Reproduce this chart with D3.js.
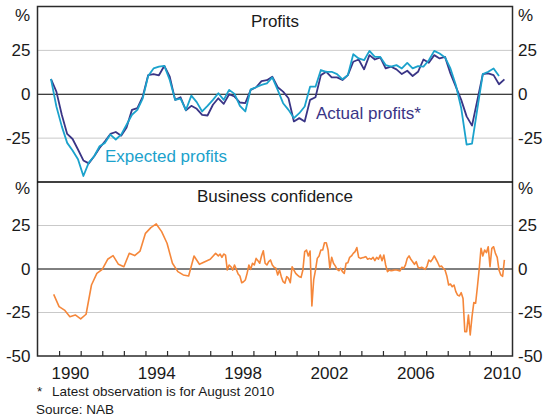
<!DOCTYPE html>
<html>
<head>
<meta charset="utf-8">
<script src="https://cdn.jsdelivr.net/npm/d3@7"></script>
<style>
  body { margin: 0; background: #fff; }
  svg text { font-family: "Liberation Sans", Arial, Helvetica, sans-serif; fill: #1a1a1a; }
</style>
</head>
<body>
<svg id="chart" width="545" height="418"></svg>
<script>
// Quarterly NAB profits series (per cent), first observation Sep quarter 1989
const profitsStart = 1989.625;
const actualProfits = [
  8.7, 1.5, -11.7, -22.6, -25.5, -31.5, -37.7, -39.4, -35.3, -30.6,
  -26.8, -22.6, -21.5, -23.6, -18.9, -8.9, -7.9, -1.3, 10.9, 11.5,
  10.8, 16.2, 10, -3.2, -1.7, -9.2, -6.6, -8.3, -11.7, -12.1,
  -6, -2.3, -5.5, 0, -1.3, -4.7, -5, 2.5, 4, 7.5,
  8, 10, 4, 1.5, -2.3, -15.5, -13.6, -15.5, -3.2, -1.7,
  10.9, 12.8, 9.6, 9.6, 8.1, 10.9, 18.5, 19.8, 14.2, 22.3,
  19.8, 21, 14.7, 15.7, 14.2, 11.5, 13.4, 10.4, 12.8, 19.8,
  17.9, 22.3, 20.4, 21.3, 11.9, 4.3, -3.2, -12.6, -17.9, -3.2,
  11.5, 11.9, 10.9, 5.7, 8.5
];
const expectedProfits = [
  8.7, -7, -18.3, -27.7, -32, -37, -46.6, -39, -35.3, -29.6,
  -27.7, -23, -25.8, -23, -17.4, -11.7, -8.9, -2.3, 10.4, 14.7,
  15.7, 16.2, 8.1, -3.2, -2.5, -9, -0.8, -4.5, -9.8, -6.6,
  -3.2, 0.6, -3.2, 2.5, 0.2, -6.6, -9.8, 2.8, 4, 5.3,
  6.2, 9.6, 2.5, -5.1, -8.9, -13.6, -10.8, -7, 4.3, 4.3,
  13.8, 12.8, 12.8, 11.5, 8.5, 10.9, 22.8, 20.4, 19.4, 24.7,
  21.3, 21.3, 16.6, 15.7, 16.6, 14.7, 17.9, 14.7, 16, 15.7,
  19.4, 24.7, 23.2, 21, 14.7, 5.3, -7.9, -28.7, -28.1, -8,
  11.5, 12.8, 14.7, 10.4
];

// Business confidence: quarterly survey to early 1997, monthly from May 1997
const confidenceQuarterlyStart = 1989.75;
const confidenceQuarterly = [
  -14.6, -21.6, -23.6, -27.4, -26.4, -28.7, -26, -9.2, -2.5, -0.2,
  5.6, 7.7, 2.7, 1.3, 9, 7.7, 10.3, 20.5, 23.8, 25.9,
  21.5, 14.8, 3.3, -1.5, -3.4, -4, 7.5, 2.7, 4.2, 5.6,
  9
];
const confidenceMonthlyStart = 1997 + 4.5 / 12;
const confidenceMonthly = [
  // May 1997 - Dec 1999
  7.5, 8.6, 6.7, 8.6, 8, -0.6, 2.3, 1.3, -0.6, 2.3,
  -0.2, -2.9, -4, -7.9, -7.3, -6.3, -2.5, 2.3, -0.2, 3.3,
  2.3, 6.1, 4.8, 3.3, 7.5, 10.5, 3.3, 2.3, 4.2, 5.2,
  2.3, 1,
  // Jan 2000 - Aug 2010
  0.4, -3.4, -0.6, -4.4, -7.3, -8.2, -4.4, -5.4, -7.9, 1.3,
  -0.6, -2.5, -3.5, -4.4, -4.8, -0.6, 10, 10.9, 7.5, 10.3,
  -21.3, -6.3, -0.6, 6.1, 7.5, 10.9, 10.9, 15.1, 15.1, 10.9,
  0.4, 6.7, 3.3, 1.8, -0.2, -1, 0.4, -1.5, -2.5, 3.3,
  3.6, 6.7, 7.5, 9, 10, 12.3, 6.7, 6.1, 6.5, 6.7,
  7.1, 5.6, 6.1, 5.6, 6.7, 4.8, 6.7, 5.6, 8, 4.8,
  8, 2.3, -1.5, -0.6, -1, -0.8, -0.6, -0.6, -0.8, -1.1,
  1, 0.4, 2.3, 6.1, 7.5, 5.6, 4.2, 2.7, 4.2, 1,
  0.4, 1, 0.4, -0.2, 1.7, 5.2, 4.2, 5.6, 7.5, 5.6,
  3.6, 1.3, 1.7, 0.4, -0.6, -4, -9.2, -8.6, -10.2, -9.2,
  -13, -15, -15.5, -13.6, -16.9, -36, -36, -26.4, -37.9, -27.4,
  -19.3, -19.7, -10.2, 0, 11.9, 7.5, 10.9, 9.4, 12.8, 1.3,
  11.9, 12.8, 9, 6.7, -0.6, -3.4, -4.2, 5.2
];

const yearTicks = d3.range(1990, 2011);
const yearLabels = [1990, 1994, 1998, 2002, 2006, 2010];
const valueTicks = [25, 0, -25];
const bottomValueTicks = [25, 0, -25, -50];
const panelTitles = ["Profits", "Business confidence"];
const footnotes = ["Latest observation is for August 2010", "Source: NAB"];

const colours = { actual: "#3a3586", expected: "#1ba2cc", confidence: "#f5873a" };

const svg = d3.select("#chart");
const plotLeft = 37.5, plotRight = 512.5, plotTop = 6.5, plotMid = 182, plotBottom = 356;

const x = d3.scaleLinear().domain([1989, 2011]).range([plotLeft, plotRight]);
const yTop = d3.scaleLinear().domain([-50, 50]).range([plotMid, plotTop]);
const yBot = d3.scaleLinear().domain([-50, 50]).range([plotBottom, plotMid]);

const withDates = (vals, start, step) => vals.map((v, i) => ({ t: start + i * step, v }));
const actualPts = withDates(actualProfits, profitsStart, 0.25);
const expectedPts = withDates(expectedProfits, profitsStart, 0.25);
const confidencePts = withDates(confidenceQuarterly, confidenceQuarterlyStart, 0.25)
  .concat(withDates(confidenceMonthly, confidenceMonthlyStart, 1 / 12));

// gridlines and zero lines
function gridFor(y) {
  svg.append("g").selectAll("line").data([25, -25]).join("line")
    .attr("x1", plotLeft).attr("x2", plotRight)
    .attr("y1", d => y(d)).attr("y2", d => y(d))
    .attr("stroke", "#c9c9c9").attr("stroke-width", 1);
  svg.append("line").attr("x1", plotLeft).attr("x2", plotRight)
    .attr("y1", y(0)).attr("y2", y(0))
    .attr("stroke", "#000").attr("stroke-width", 1);
}
gridFor(yTop);
gridFor(yBot);

// series
const lineTop = d3.line().x(d => x(d.t)).y(d => yTop(d.v));
const lineBot = d3.line().x(d => x(d.t)).y(d => yBot(d.v));

svg.append("path").datum(actualPts).attr("d", lineTop)
  .attr("fill", "none").attr("stroke", colours.actual).attr("stroke-width", 1.8)
  .attr("stroke-linejoin", "round");
svg.append("path").datum(expectedPts).attr("d", lineTop)
  .attr("fill", "none").attr("stroke", colours.expected).attr("stroke-width", 1.8)
  .attr("stroke-linejoin", "round");
svg.append("path").datum(confidencePts).attr("d", lineBot)
  .attr("fill", "none").attr("stroke", colours.confidence).attr("stroke-width", 1.6)
  .attr("stroke-linejoin", "round");

// frame
const frame = svg.append("g").attr("stroke", "#2b2b2b").attr("stroke-width", 1.5).attr("fill", "none");
frame.append("rect").attr("x", plotLeft).attr("y", plotTop)
  .attr("width", plotRight - plotLeft).attr("height", plotBottom - plotTop);
frame.append("line").attr("x1", plotLeft).attr("x2", plotRight)
  .attr("y1", plotMid).attr("y2", plotMid).attr("stroke", "#000");

// year ticks (inside, pointing up) and labels centred on each year
const tickAxis = svg.append("g").attr("transform", `translate(0,${plotBottom})`)
  .call(d3.axisTop(x).tickValues(yearTicks).tickSizeInner(5).tickSizeOuter(0).tickFormat(""));
tickAxis.select(".domain").remove();
tickAxis.selectAll(".tick line").attr("stroke", "#2b2b2b").attr("stroke-width", 1.2);

const labelAxis = svg.append("g").attr("transform", `translate(0,${plotBottom})`)
  .call(d3.axisBottom(x).tickValues(yearLabels.map(d => d + 0.5)).tickSize(0).tickPadding(11)
    .tickFormat(d => String(Math.floor(d))));
labelAxis.select(".domain").remove();
labelAxis.selectAll("text").attr("font-size", 17).attr("font-family", null);

// value axes (plain hyphen for negative numbers)
function valueAxes(y, ticks) {
  const fmt = d => String(d);
  const l = svg.append("g").attr("transform", `translate(${plotLeft},0)`)
    .call(d3.axisLeft(y).tickValues(ticks).tickSize(0).tickPadding(7).tickFormat(fmt));
  const r = svg.append("g").attr("transform", `translate(${plotRight},0)`)
    .call(d3.axisRight(y).tickValues(ticks).tickSize(0).tickPadding(5.5).tickFormat(fmt));
  [l, r].forEach(g => {
    g.select(".domain").remove();
    g.selectAll("text").attr("font-size", 17).attr("font-family", null);
  });
}
valueAxes(yTop, valueTicks);
valueAxes(yBot, bottomValueTicks);

// unit labels
[15, 188].forEach(yy => {
  svg.append("text").attr("x", 30).attr("y", yy).attr("dy", "0.35em")
    .attr("text-anchor", "end").attr("font-size", 17).text("%");
  svg.append("text").attr("x", 518).attr("y", yy).attr("dy", "0.35em")
    .attr("text-anchor", "start").attr("font-size", 17).text("%");
});

// panel titles
svg.append("text").attr("x", (plotLeft + plotRight) / 2).attr("y", 21).attr("dy", "0.35em")
  .attr("text-anchor", "middle").attr("font-size", 17).text(panelTitles[0]);
svg.append("text").attr("x", (plotLeft + plotRight) / 2).attr("y", 196).attr("dy", "0.35em")
  .attr("text-anchor", "middle").attr("font-size", 17).text(panelTitles[1]);

// series labels
svg.append("text").attr("x", 105).attr("y", 156).attr("dy", "0.35em")
  .attr("font-size", 17).style("fill", colours.expected).text("Expected profits");
svg.append("text").attr("x", 316).attr("y", 113).attr("dy", "0.35em")
  .attr("font-size", 17).style("fill", colours.actual).text("Actual profits*");

// footnotes
svg.append("text").attr("x", 37).attr("y", 391).attr("dy", "0.35em")
  .attr("font-size", 13.5).text("*");
svg.append("text").attr("x", 52).attr("y", 391).attr("dy", "0.35em")
  .attr("font-size", 13.5).text(footnotes[0]);
svg.append("text").attr("x", 36).attr("y", 409).attr("dy", "0.35em")
  .attr("font-size", 13.5).text(footnotes[1]);
</script>
</body>
</html>
